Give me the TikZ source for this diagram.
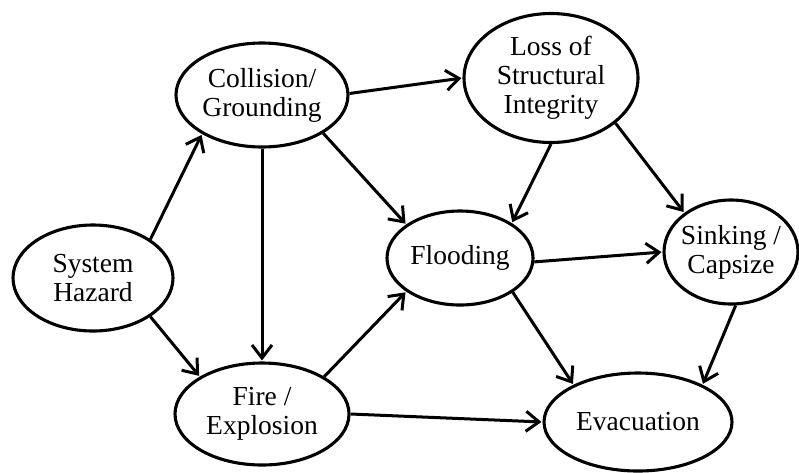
\documentclass[tikz,border=0pt]{standalone}
\usepackage{fontspec}
\setmainfont{Liberation Serif}
\usetikzlibrary{shapes.geometric,arrows.meta}
\begin{document}
\begin{tikzpicture}[x=1pt,y=1pt,
  state/.style={ellipse, draw, line width=3.1pt, inner sep=0pt, align=center,
    font=\fontsize{27.5}{29}\selectfont},
  link/.style={line width=3pt, shorten >=1pt,
    -{Straight Barb[length=13pt,width=20pt,line width=3pt]}}]
\useasboundingbox (0,0) rectangle (799,-472);

% events
\node[state, minimum width=160pt, minimum height=106pt] (sys)   at (93,-278)  {System\\Hazard};
\node[state, minimum width=172pt, minimum height=104pt] (col)   at (262,-95)  {Collision/\\Grounding};
\node[state, minimum width=174pt, minimum height=129pt] (loss)  at (551,-78)  {Loss of\\Structural\\Integrity};
\node[state, minimum width=146pt, minimum height=94pt]  (flood) at (460,-258) {Flooding};
\node[state, minimum width=134pt, minimum height=104pt, inner xsep=-8pt] (sink) at (731,-252) {Sinking /\\Capsize};
\node[state, minimum width=174pt, minimum height=102pt] (fire)  at (262,-414) {Fire /\\Explosion};
\node[state, minimum width=188pt, minimum height=98pt]  (evac)  at (638,-422) {Evacuation};

% escalation paths
\draw[link] (sys.34)    -- (col.213);
\draw[link] (sys.-34)   -- (fire.149);
\draw[link] (col.south) -- (fire.north);
\draw[link] (col.1)     -- (loss.west);
\draw[link] (col.-32)   -- (flood.148);
\draw[link] (fire.31)   -- (flood.212);
\draw[link] (fire.east) -- (evac.west);
\draw[link] (loss.south) -- (flood.34);
\draw[link] (loss.-35)  -- (sink.140);
\draw[link] (flood.-3)  -- (sink.west);
\draw[link] (flood.-33) -- (evac.150);
\draw[link] (sink.-85)  -- (evac.30);
\end{tikzpicture}
\end{document}
